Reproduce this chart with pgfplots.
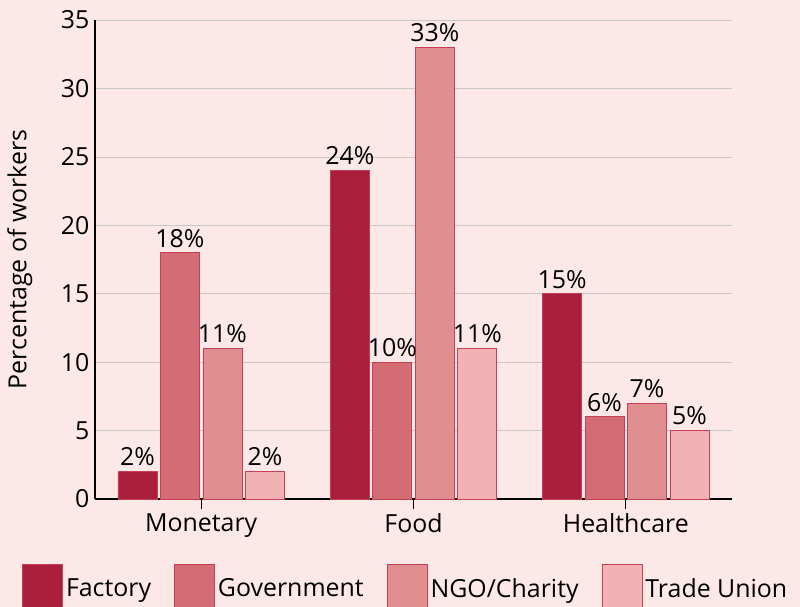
\documentclass[border=0pt]{standalone}
\usepackage{pgfplots}
\pgfplotsset{compat=1.18}
\usepackage{fontspec}
\setmainfont{Open Sans}
\definecolor{bg}{HTML}{FDE8E8}
\definecolor{cA}{HTML}{A91E3B}
\definecolor{cB}{HTML}{D36D73}
\definecolor{cC}{HTML}{E18E90}
\definecolor{cD}{HTML}{F2B2B3}
\definecolor{edge}{HTML}{C63E58}
\newcommand\fs{\fontsize{25}{30}\selectfont}
\begin{document}
\begin{tikzpicture}
\fill[bg] (0bp,0bp) rectangle (800bp,607bp);
\path[use as bounding box] (0bp,0bp) rectangle (800bp,607bp);
\begin{axis}[
  at={(95bp,108bp)}, anchor=south west,
  scale only axis, width=637bp, height=479bp,
  xmin=-0.5, xmax=2.5, ymin=0, ymax=35,
  xtick={0,1,2}, xticklabels={Monetary,Food,Healthcare},
  ytick={0,5,...,35},
  axis x line*=bottom, axis y line*=left,
  axis line style={black, line width=1.2bp},
  ymajorgrids, grid style={color=black!22, line width=0.7bp},
  y tick style={draw=none},
  x tick style={black, line width=1bp},
  tick align=inside, major tick length=10bp,
  /pgf/number format/assume math mode=true,
  tick label style={font=\fs},
  yticklabel style={xshift=-2bp},
  xticklabel style={yshift=-1bp},
  ylabel={Percentage of workers},
  ylabel style={font=\fs, at={(axis description cs:-0.118,0.5)}, anchor=center},
  ybar, bar width=39bp,
  nodes near coords={\pgfmathprintnumber{\pgfplotspointmeta}\%},
  every node near coord/.append style={font=\fs, text=black, inner sep=5bp},
  clip=false,
  legend columns=4,
  legend cell align=left,
  legend style={at={(axis description cs:-0.1146,-0.1357)}, anchor=north west,
    draw=none, fill=none, inner sep=0pt, font=\fs,
    nodes={inner sep=3bp},
    /tikz/every even column/.append style={column sep=20bp}},
  legend image code/.code={\draw[#1] (0bp,-24bp) rectangle (40bp,24bp);},
]
\addplot[fill=cA, draw=edge, line width=0.8bp, bar shift=-63.75bp] coordinates {(0,2) (1,24) (2,15)};
\addplot[fill=cB, draw=edge, line width=0.8bp, bar shift=-21.25bp] coordinates {(0,18) (1,10) (2,6)};
\addplot[fill=cC, draw=edge, line width=0.8bp, bar shift=21.25bp] coordinates {(0,11) (1,33) (2,7)};
\addplot[fill=cD, draw=edge, line width=0.8bp, bar shift=63.75bp] coordinates {(0,2) (1,11) (2,5)};
\legend{Factory,Government,NGO/Charity,Trade Union}
\end{axis}
\end{tikzpicture}
\end{document}
